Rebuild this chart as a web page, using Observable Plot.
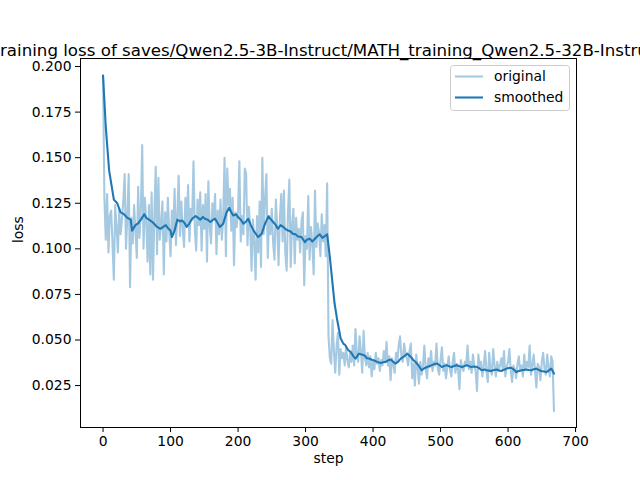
<!DOCTYPE html>
<html><head><meta charset="utf-8">
<script src="https://cdn.jsdelivr.net/npm/d3@7"></script>
<script src="https://cdn.jsdelivr.net/npm/@observablehq/plot@0.6"></script>
<style>html,body{margin:0;padding:0;background:#fff;overflow:hidden}</style>
</head><body><div id="chart"></div>
<script>
const titleText = "training loss of saves/Qwen2.5-3B-Instruct/MATH_training_Qwen2.5-32B-Instruct";
const xLabel = "step";
const yLabel = "loss";
const seriesNames = ["original", "smoothed"];
const seriesColor = "#1f77b4";
const xTicks = [0, 100, 200, 300, 400, 500, 600, 700];
const yTicks = [0.025, 0.050, 0.075, 0.100, 0.125, 0.150, 0.175, 0.200];
const stepInterval = 2;

// original loss, one value every 2 steps (0..668)
const originalLoss = [
 0.195,0.128,0.105,0.130,0.098,0.118,0.121,0.103,0.083,0.124,
 0.112,0.098,0.122,0.108,0.116,0.126,0.141,0.100,0.118,0.141,
 0.079,0.117,0.103,0.124,0.110,0.095,0.134,0.106,0.121,0.157,
 0.100,0.128,0.115,0.093,0.124,0.086,0.131,0.083,0.118,0.145,
 0.097,0.139,0.105,0.113,0.126,0.086,0.120,0.104,0.128,0.110,
 0.096,0.121,0.108,0.133,0.102,0.118,0.140,0.107,0.126,0.111,
 0.101,0.128,0.113,0.135,0.104,0.122,0.116,0.148,0.110,0.099,
 0.127,0.113,0.131,0.099,0.124,0.111,0.130,0.093,0.137,0.112,
 0.103,0.125,0.116,0.130,0.097,0.121,0.108,0.127,0.105,0.118,
 0.150,0.096,0.144,0.124,0.133,0.110,0.128,0.091,0.120,0.112,
 0.121,0.148,0.104,0.118,0.108,0.144,0.141,0.102,0.123,0.112,
 0.088,0.116,0.104,0.083,0.118,0.098,0.126,0.090,0.150,0.108,
 0.128,0.141,0.095,0.118,0.108,0.122,0.103,0.094,0.127,0.112,
 0.091,0.117,0.130,0.104,0.132,0.098,0.088,0.120,0.138,0.090,
 0.113,0.122,0.092,0.117,0.105,0.111,0.098,0.115,0.120,0.080,
 0.107,0.100,0.129,0.094,0.112,0.103,0.086,0.132,0.101,0.114,
 0.109,0.096,0.119,0.104,0.113,0.096,0.136,0.052,0.040,0.037,
 0.061,0.044,0.032,0.047,0.054,0.031,0.045,0.040,0.043,0.036,
 0.046,0.039,0.035,0.043,0.038,0.047,0.036,0.056,0.041,0.038,
 0.052,0.044,0.032,0.055,0.040,0.036,0.043,0.035,0.041,0.030,
 0.038,0.034,0.043,0.037,0.040,0.033,0.039,0.036,0.044,0.038,
 0.049,0.036,0.041,0.028,0.040,0.037,0.032,0.043,0.038,0.047,
 0.052,0.041,0.038,0.048,0.043,0.040,0.036,0.044,0.048,0.029,
 0.037,0.025,0.042,0.035,0.026,0.038,0.031,0.036,0.047,0.034,
 0.029,0.040,0.035,0.044,0.033,0.038,0.036,0.048,0.034,0.031,
 0.039,0.046,0.033,0.037,0.029,0.035,0.041,0.034,0.030,0.038,
 0.043,0.032,0.037,0.034,0.023,0.039,0.035,0.033,0.038,0.036,
 0.047,0.034,0.038,0.032,0.042,0.036,0.033,0.022,0.042,0.035,
 0.038,0.030,0.036,0.044,0.033,0.027,0.043,0.034,0.031,0.045,
 0.036,0.030,0.038,0.033,0.036,0.040,0.034,0.044,0.030,0.035,
 0.038,0.045,0.033,0.027,0.036,0.034,0.029,0.037,0.041,0.033,
 0.036,0.030,0.042,0.034,0.038,0.035,0.047,0.031,0.036,0.042,
 0.033,0.024,0.037,0.035,0.028,0.038,0.043,0.034,0.031,0.042,
 0.035,0.030,0.041,0.038,0.011
];

const smoothedSteps = [0,4,9,16,21,26,31,36,41,43,48,52,56,61,64,68,72,75,80,85,89,93,97,100,102,106,110,
 114,117,121,124,128,132,137,141,144,148,151,155,159,163,166,170,173,178,183,187,190,193,197,200,204,208,212,215,219,223,228,230,235,
 240,245,249,252,256,259,263,267,270,274,278,281,285,289,294,299,302,306,310,314,318,321,325,328,332,336,341,343,347,352,
 356,359,363,367,371,374,379,383,387,391,394,398,401,406,411,415,419,422,426,430,433,437,441,446,451,456,460,464,467,472,476,480,484,487,491,495,
 499,502,506,509,513,517,520,524,528,532,536,539,543,546,550,554,558,561,565,568,572,575,579,583,587,590,594,598,601,605,609,612,616,620,624,627,631,635,638,642,
 646,649,653,657,661,664,668];
const smoothedLoss = [0.195,0.167,0.143,0.127,0.125,0.120,0.119,0.117,0.116,0.110,0.113,0.114,0.116,0.119,0.117,0.116,0.115,0.114,0.112,0.111,0.112,0.113,0.111,0.110,0.1065,0.110,0.116,
 0.1150,0.1156,0.114,0.112,0.114,0.1165,0.118,0.117,0.116,0.1175,0.1165,0.116,0.1147,0.116,0.1165,0.114,0.112,0.1138,0.120,0.1226,0.120,0.1183,0.119,0.1174,0.116,0.1138,0.115,0.1165,0.113,0.110,0.1074,0.1065,0.1083,
 0.1138,0.1178,0.116,0.1147,0.113,0.111,0.113,0.112,0.111,0.110,0.1095,0.1083,0.108,0.1068,0.1065,0.1037,0.105,0.1056,0.104,0.1056,0.107,0.108,0.106,0.1068,0.108,0.0955,0.0772,0.070,0.0608,0.0508,
 0.048,0.0471,0.0445,0.0434,0.041,0.0398,0.0425,0.042,0.0416,0.040,0.0398,0.0392,0.0389,0.038,0.0374,0.0378,0.038,0.0388,0.0393,0.038,0.0371,0.038,0.0398,0.041,0.0425,0.0407,0.0389,0.0375,0.0362,0.0334,0.0345,0.0352,0.0358,0.0362,0.0368,0.0371,
 0.036,0.0352,0.0358,0.0362,0.0355,0.0352,0.0358,0.0362,0.0356,0.0352,0.0358,0.0362,0.0355,0.0352,0.0355,0.0352,0.0343,0.0334,0.0338,0.0334,0.0332,0.033,0.0335,0.0338,0.0333,0.033,0.0337,0.0343,0.0346,0.0348,0.0336,0.0324,0.0330,0.0334,0.0336,0.0338,0.0335,0.0334,0.0340,0.0343,
 0.0335,0.033,0.0327,0.0324,0.0335,0.0343,0.0316];

const original = originalLoss.map((loss, i) => ({step: i * stepInterval, loss}));
const smoothed = smoothedSteps.map((step, i) => ({step, loss: smoothedLoss[i]}));

const fs = "13.89px";
const chart = Plot.plot({
  width: 640, height: 480,
  marginLeft: 80, marginRight: 64, marginTop: 58, marginBottom: 53,
  style: {fontFamily: "'DejaVu Sans', sans-serif", fontSize: fs, color: "black", background: "white", overflow: "hidden"},
  x: {domain: [-33.4, 701.4]},
  y: {domain: [0.002, 0.2044]},
  marks: [
    Plot.line(original, {x: "step", y: "loss", stroke: seriesColor, strokeOpacity: 0.4, strokeWidth: 2.08}),
    Plot.line(smoothed, {x: "step", y: "loss", stroke: seriesColor, strokeWidth: 2.08}),
    Plot.frame({stroke: "black", strokeWidth: 1}),
    Plot.axisX({ticks: xTicks, tickSize: 5, tickPadding: 4, label: null, tickFormat: d => String(d)}),
    Plot.axisY({ticks: yTicks, tickSize: 5, tickPadding: 4, label: null, tickFormat: d3.format(".3f")}),
    Plot.text([xLabel], {frameAnchor: "bottom", dy: 35, text: d => d}),
    Plot.text([yLabel], {frameAnchor: "left", dx: -62, rotate: -90, text: d => d}),
    Plot.text([titleText], {frameAnchor: "top", dy: -14, text: d => d, fontSize: 16.67})
  ]
});
document.getElementById("chart").appendChild(chart);

// legend
const svg = d3.select(chart);
const lg = svg.append("g").attr("font-family", "'DejaVu Sans', sans-serif").attr("font-size", fs).attr("text-anchor", "start");
lg.append("rect").attr("x", 450.5).attr("y", 65.5).attr("width", 119).attr("height", 45).attr("rx", 3)
  .attr("fill", "white").attr("fill-opacity", 0.8).attr("stroke", "#cccccc");
seriesNames.forEach((name, i) => {
  const y = 76.5 + i * 21;
  lg.append("line").attr("x1", 455).attr("x2", 483).attr("y1", y).attr("y2", y)
    .attr("stroke", seriesColor).attr("stroke-width", 2.08).attr("stroke-opacity", i === 0 ? 0.4 : 1);
  lg.append("text").attr("x", 494).attr("y", y).attr("dy", "0.35em").attr("fill", "black").attr("text-anchor", "start").text(name);
});
</script>
</body></html>
